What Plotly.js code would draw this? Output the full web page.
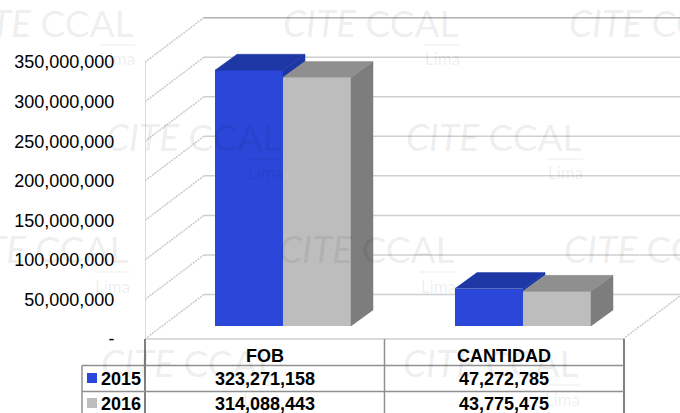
<!DOCTYPE html>
<html>
<head>
<meta charset="utf-8">
<script src="https://cdn.plot.ly/plotly-3.0.1.min.js"></script>
<style>html,body{margin:0;padding:0;background:#fff;overflow:hidden}#c{width:680px;height:413px}</style>
</head>
<body>
<div id="c"></div>
<script>
const categories = ['FOB', 'CANTIDAD'];
const years = ['2015', '2016'];
const values2015 = [323271158, 47272785];
const values2016 = [314088443, 43775475];
const tickVals = [0, 50000000, 100000000, 150000000, 200000000, 250000000, 300000000, 350000000];
const tickText = ['-', '50,000,000', '100,000,000', '150,000,000', '200,000,000', '250,000,000', '300,000,000', '350,000,000'];
const colFront = ['#2a47d9', '#bdbdbd'];
const colTop = ['#1d37a5', '#8f8f8f'];
const colSide = ['#1d37a5', '#7d7d7d'];

const W = 680, H = 413, ML = 145;
const Y0 = 339, PXPERV = 39.55 / 50e6;
const GROUP0 = 283, GROUPSTEP = 240;
const ux = p => (p - GROUP0) / GROUPSTEP;
const vy = p => (Y0 - p) / PXPERV;
const dx = px => px / GROUPSTEP;
const dv = px => px / PXPERV;
const px = p => (p - ML) / (W - ML);
const py = p => 1 - p / H;

const barW = dx(68), barOff = [-barW, 0];
const barBase = dv(13);
const bdx = dx(22), bdv = dv(16);
const wdx = dx(59), wdv = dv(44.5);
const leftX = ux(145), rightX = ux(623);

const series = [values2015, values2016];
const traces = [];
series.forEach((vals, s) => {
  traces.push({
    type: 'bar', x: [0, 1], y: vals, base: barBase, width: barW, offset: barOff[s],
    name: years[s], marker: {color: colFront[s], line: {width: 0}}, hoverinfo: 'y+name'
  });
});
const poly = (xs, ys, c) => ({
  type: 'scatter', mode: 'lines', x: xs, y: ys, fill: 'toself', fillcolor: c,
  line: {color: c, width: 0.5}, hoverinfo: 'skip', showlegend: false
});
series.forEach((vals, s) => {
  vals.forEach((v, i) => {
    const l = i + barOff[s], r = l + barW, t = barBase + v;
    // the first series' side is only visible above its neighbour
    const b = s === 0 ? barBase + series[1][i] : barBase;
    traces.push(poly([r, r + bdx, r + bdx, r, r], [b, b + bdv, t + bdv, t, b], colSide[s]));
    traces.push(poly([l, r, r + bdx, l + bdx, l], [t, t, t + bdv, t + bdv, t], colTop[s]));
  });
});

const shapes = [];
const ln = (x0, y0, x1, y1, c, w, dash) => shapes.push({
  type: 'line', xref: 'x', yref: 'y', x0, y0, x1, y1, layer: 'below',
  line: {color: c, width: w, dash: dash || 'solid'}
});
tickVals.forEach((t, i) => {
  const top = i === tickVals.length - 1;
  ln(leftX, t, leftX + wdx, t + wdv, '#c9c9c9', 1.5, '2px,1px');
  ln(leftX + wdx, t + wdv, ux(680), t + wdv, top ? '#b0b0b0' : '#cfcfcf', 1.5);
});
ln(leftX, 0, leftX, 350e6, '#cfcfcf', 1.5);
ln(leftX, 0, rightX, 0, '#cfcfcf', 1.5);
ln(rightX, 0, rightX + wdx, wdv, '#c9c9c9', 1.5, '2px,1px');

const pl = (x0, y0, x1, y1, c, w) => shapes.push({
  type: 'line', xref: 'paper', yref: 'paper', x0: px(x0), y0: py(y0), x1: px(x1), y1: py(y1),
  line: {color: c, width: w}
});
pl(145, 339, 145, 413, '#808080', 2);
pl(384.5, 339, 384.5, 413, '#909090', 1.5);
pl(624, 339, 624, 413, '#808080', 2);
pl(82, 365.5, 82, 413, '#909090', 1.5);
pl(82, 365.5, 624, 365.5, '#909090', 1.5);
pl(82, 391.5, 624, 391.5, '#909090', 1.5);
[378, 403].forEach((yy, s) => shapes.push({
  type: 'rect', xref: 'paper', yref: 'paper',
  x0: px(87), x1: px(97), y0: py(yy - 5), y1: py(yy + 5),
  fillcolor: colFront[s], line: {width: 0}
}));

const fmt = v => v.toLocaleString('en-US');
const annotations = [];
const txt = (x, y, text, anchor) => annotations.push({
  xref: 'paper', yref: 'paper', x: px(x), y: py(y), text, showarrow: false,
  xanchor: anchor || 'center', yanchor: 'middle',
  font: {family: 'Liberation Sans, Arial, sans-serif', size: 18, color: '#000'}
});
const colCenter = [264.5, 504];
categories.forEach((c, i) => {
  txt(colCenter[i], 356, '<b>' + c + '</b>');
  txt(colCenter[i], 379, '<b>' + fmt(values2015[i]) + '</b>');
  txt(colCenter[i], 404, '<b>' + fmt(values2016[i]) + '</b>');
});
years.forEach((y, s) => txt(121, [379, 404][s], '<b>' + y + '</b>'));

const marks = [[46, 22], [371, 22], [657, 22], [194, 136], [494, 136], [41, 249], [367, 249], [652, 249], [189, 362], [491, 362]];
marks.forEach(m => {
  annotations.push({
    xref: 'paper', yref: 'paper', x: px(m[0]), y: py(m[1]), showarrow: false,
    text: '<i>CITE</i> CCAL', xanchor: 'center', yanchor: 'middle',
    font: {family: 'Lato, sans-serif', size: 37, color: 'rgba(0,0,0,0.085)'}
  });
  annotations.push({
    xref: 'paper', yref: 'paper', x: px(m[0] + 71), y: py(m[1] + 37), showarrow: false,
    text: 'Lima', xanchor: 'center', yanchor: 'middle',
    font: {family: 'Lato, sans-serif', size: 17, color: 'rgba(0,0,0,0.085)'}
  });
  shapes.push({
    type: 'line', xref: 'paper', yref: 'paper',
    x0: px(m[0] + 53), x1: px(m[0] + 89), y0: py(m[1] + 23), y1: py(m[1] + 23),
    line: {color: 'rgba(0,0,0,0.07)', width: 1}
  });
});

Plotly.newPlot('c', traces, {
  width: W, height: H, autosize: false,
  margin: {l: ML, r: 0, t: 0, b: 0, pad: 0},
  paper_bgcolor: '#fff', plot_bgcolor: 'rgba(0,0,0,0)',
  showlegend: false, barmode: 'overlay', bargap: 0,
  xaxis: {type: 'linear', range: [ux(145), ux(680)], visible: false, fixedrange: true},
  yaxis: {
    type: 'linear', range: [vy(H), vy(0)], tickmode: 'array', tickvals: tickVals, ticktext: tickText,
    showgrid: false, zeroline: false, showline: false, ticks: 'outside', ticklen: 26,
    tickcolor: 'rgba(0,0,0,0)', fixedrange: true, ticklabelshift: -2.5,
    tickfont: {family: 'Liberation Sans, Arial, sans-serif', size: 18, color: '#000'}
  },
  shapes, annotations
}, {displayModeBar: false, staticPlot: true});
</script>
</body>
</html>
